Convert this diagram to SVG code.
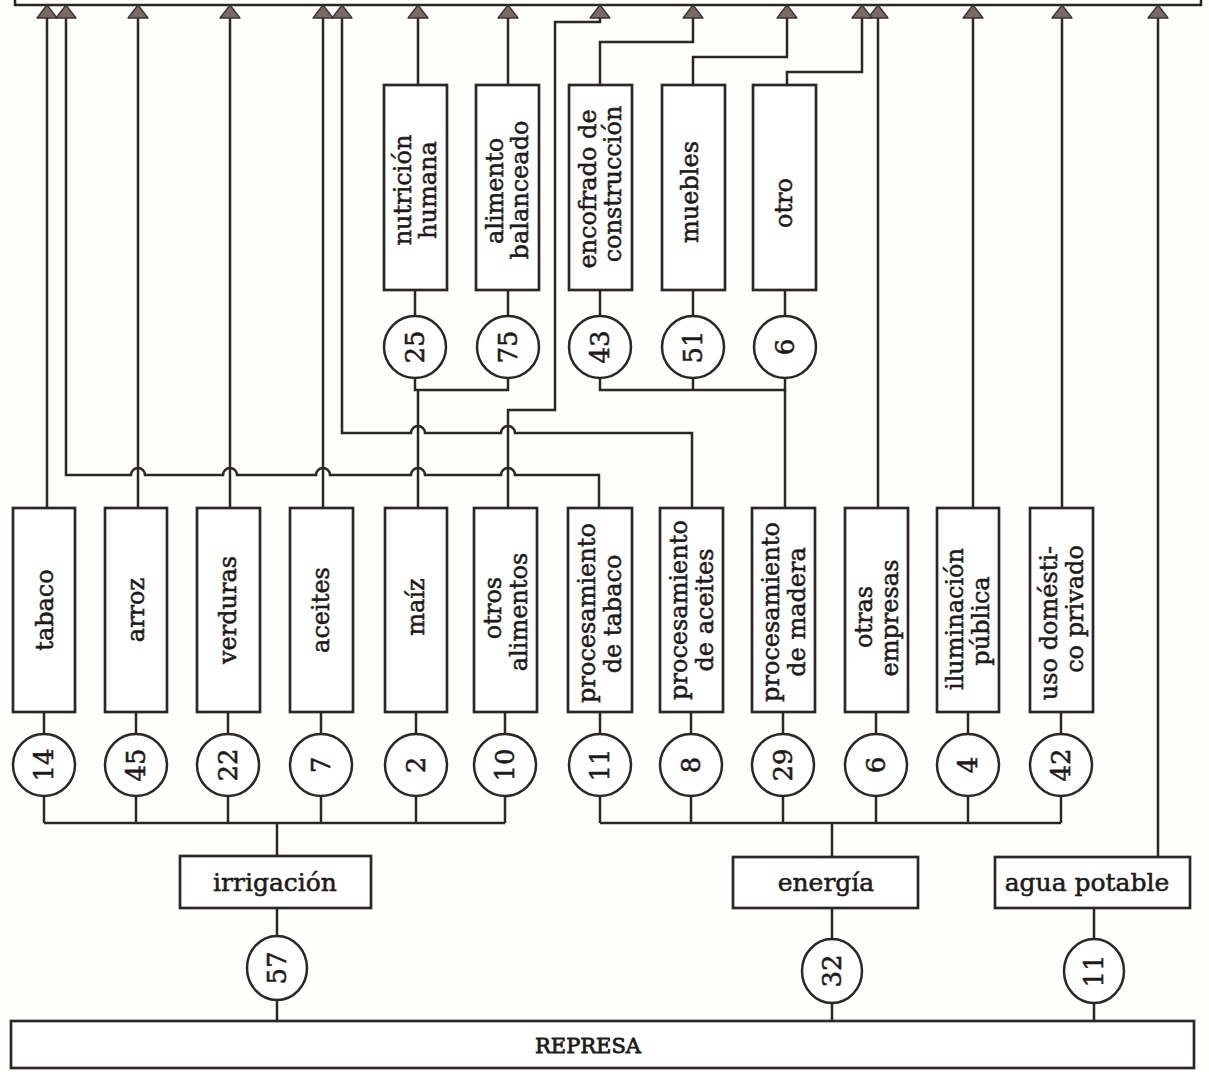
<svg xmlns="http://www.w3.org/2000/svg" width="1209" height="1072" viewBox="0 0 1209 1072">
<defs>
<marker id="ah" markerUnits="userSpaceOnUse" viewBox="0 0 15 23" refX="14" refY="11.5" markerWidth="15" markerHeight="23" orient="auto">
<path d="M1,1.5 L14,11.5 L1,21.5 Z" fill="#7a6a66" stroke="#3a3232" stroke-width="1.3" stroke-linejoin="round"/>
</marker>
<style>
.bx{fill:#fff;stroke:#2b2726;stroke-width:2.7}
.ci{fill:#fff;stroke:#2b2726;stroke-width:2.5}
.ln{fill:none;stroke:#2b2726;stroke-width:2.5;stroke-linejoin:miter}
.ar{marker-end:url(#ah)}
text{font-family:"DejaVu Serif","Liberation Serif",serif;fill:#1e1a1a;stroke:#1e1a1a;stroke-width:0.55}
.t{font-size:24px;text-anchor:middle}
.n{font-size:26px;text-anchor:middle}
.h{font-size:25px;text-anchor:middle}
.r{font-size:21px;text-anchor:middle;stroke-width:0.8}
</style>
</defs>
<rect width="1209" height="1072" fill="#fefefd"/>

<g id="top-frame">
<path class="ln" d="M15,0 V5 H1201 V0" stroke-width="2.8"/>
</g>

<g id="connectors">
<path class="ln ar" d="M47,508 V5"/>
<path class="ln ar" d="M138,508 V5"/>
<path class="ln ar" d="M230,508 V5"/>
<path class="ln ar" d="M323,508 V5"/>
<path class="ln ar" d="M878,508 V5"/>
<path class="ln ar" d="M973,508 V5"/>
<path class="ln ar" d="M1062,508 V5"/>
<path class="ln ar" d="M1158,857 V5"/>
<path class="ln ar" d="M599,508 V475 H515 A7,7 0 0 0 501,475 H425 A7,7 0 0 0 411,475 H330 A7,7 0 0 0 316,475 H237 A7,7 0 0 0 223,475 H145 A7,7 0 0 0 131,475 H66 V5"/>
<path class="ln ar" d="M692,508 V433 H515 A7,7 0 0 0 501,433 H425 A7,7 0 0 0 411,433 H342 V5"/>
<path class="ln" d="M418,508 V390"/>
<path class="ln" d="M415,378 V390 H508 V378"/>
<path class="ln ar" d="M508,508 V410 H555 V22 H600 V5"/>
<path class="ln" d="M785,508 V390"/>
<path class="ln" d="M600,378 V390 H785 V378"/>
<path class="ln" d="M693,378 V390"/>
<path class="ln ar" d="M418,85 V5"/>
<path class="ln ar" d="M508,85 V5"/>
<path class="ln ar" d="M600,85 V42 H693 V5"/>
<path class="ln ar" d="M693,85 V57 H787 V5"/>
<path class="ln ar" d="M787,85 V72 H862 V5"/>
<path class="ln" d="M415,290 V316 M508,290 V316 M600,290 V316 M693,290 V316 M785,290 V316"/>
<path class="ln" d="M44,712 V823 M136,712 V823 M228,712 V823 M321,712 V823 M416,712 V823 M505,712 V823"/>
<path class="ln" d="M600,712 V823 M691,712 V823 M783,712 V823 M876,712 V823 M968,712 V823 M1061,712 V823"/>
<path class="ln" d="M44,823 H505 M600,823 H1061"/>
<path class="ln" d="M277,823 V1021 M832,823 V1021 M1094,908 V1021"/>
</g>

<g id="upper-nodes">
<g id="n-nutricion"><rect class="bx" x="384" y="85" width="63" height="205"/>
<text class="t" transform="translate(403,190) rotate(-90)" dy="0.35em">nutrición</text>
<text class="t" transform="translate(428,190) rotate(-90)" dy="0.35em">humana</text></g>
<g id="n-alimento"><rect class="bx" x="476" y="85" width="63" height="205"/>
<text class="t" transform="translate(495,191) rotate(-90)" dy="0.35em">alimento</text>
<text class="t" transform="translate(520,190) rotate(-90)" dy="0.35em">balanceado</text></g>
<g id="n-encofrado"><rect class="bx" x="569" y="85" width="63" height="205"/>
<text class="t" transform="translate(588,189) rotate(-90)" dy="0.35em">encofrado de</text>
<text class="t" transform="translate(613,184) rotate(-90)" dy="0.35em">construcción</text></g>
<g id="n-muebles"><rect class="bx" x="662" y="85" width="63" height="205"/>
<text class="t" transform="translate(690,192) rotate(-90)" dy="0.35em">muebles</text></g>
<g id="n-otro"><rect class="bx" x="753" y="85" width="63" height="205"/>
<text class="t" transform="translate(784,203) rotate(-90)" dy="0.35em">otro</text></g>
<g id="c-25"><circle class="ci" cx="415" cy="347" r="31"/><text class="n" transform="translate(415,347) rotate(-90)" dy="0.36em">25</text></g>
<g id="c-75"><circle class="ci" cx="508" cy="347" r="31"/><text class="n" transform="translate(508,347) rotate(-90)" dy="0.36em">75</text></g>
<g id="c-43"><circle class="ci" cx="600" cy="347" r="31"/><text class="n" transform="translate(600,347) rotate(-90)" dy="0.36em">43</text></g>
<g id="c-51"><circle class="ci" cx="693" cy="347" r="31"/><text class="n" transform="translate(693,347) rotate(-90)" dy="0.36em">51</text></g>
<g id="c-6u"><circle class="ci" cx="785" cy="347" r="31"/><text class="n" transform="translate(785,347) rotate(-90)" dy="0.36em">6</text></g>
</g>

<g id="lower-nodes">
<g id="n-tabaco"><rect class="bx" x="13" y="508" width="62" height="204"/>
<text class="t" transform="translate(45,610) rotate(-90)" dy="0.35em">tabaco</text></g>
<g id="n-arroz"><rect class="bx" x="105" y="508" width="62" height="204"/>
<text class="t" transform="translate(136,610) rotate(-90)" dy="0.35em">arroz</text></g>
<g id="n-verduras"><rect class="bx" x="197" y="508" width="63" height="204"/>
<text class="t" transform="translate(228,610) rotate(-90)" dy="0.35em">verduras</text></g>
<g id="n-aceites"><rect class="bx" x="290" y="508" width="63" height="204"/>
<text class="t" transform="translate(321,610) rotate(-90)" dy="0.35em">aceites</text></g>
<g id="n-maiz"><rect class="bx" x="385" y="508" width="62" height="204"/>
<text class="t" transform="translate(416,607) rotate(-90)" dy="0.35em">maíz</text></g>
<g id="n-otros"><rect class="bx" x="474" y="508" width="63" height="204"/>
<text class="t" transform="translate(493,608) rotate(-90)" dy="0.35em">otros</text>
<text class="t" transform="translate(519,612) rotate(-90)" dy="0.35em">alimentos</text></g>
<g id="n-proctab"><rect class="bx" x="568" y="508" width="64" height="204"/>
<text class="t" transform="translate(587,613) rotate(-90)" dy="0.35em">procesamiento</text>
<text class="t" transform="translate(613,614) rotate(-90)" dy="0.35em">de tabaco</text></g>
<g id="n-procace"><rect class="bx" x="660" y="508" width="63" height="204"/>
<text class="t" transform="translate(679,610) rotate(-90)" dy="0.35em">procesamiento</text>
<text class="t" transform="translate(705,610) rotate(-90)" dy="0.35em">de aceites</text></g>
<g id="n-procmad"><rect class="bx" x="752" y="508" width="63" height="204"/>
<text class="t" transform="translate(771,612) rotate(-90)" dy="0.35em">procesamiento</text>
<text class="t" transform="translate(797,612) rotate(-90)" dy="0.35em">de madera</text></g>
<g id="n-otrasemp"><rect class="bx" x="845" y="508" width="63" height="204"/>
<text class="t" transform="translate(864,617) rotate(-90)" dy="0.35em">otras</text>
<text class="t" transform="translate(890,618) rotate(-90)" dy="0.35em">empresas</text></g>
<g id="n-ilum"><rect class="bx" x="937" y="508" width="62" height="204"/>
<text class="t" transform="translate(955,619) rotate(-90)" dy="0.35em">iluminación</text>
<text class="t" transform="translate(981,621) rotate(-90)" dy="0.35em">pública</text></g>
<g id="n-uso"><rect class="bx" x="1030" y="508" width="63" height="204"/>
<text class="t" transform="translate(1049,623) rotate(-90)" dy="0.35em">uso domésti-</text>
<text class="t" transform="translate(1075,609) rotate(-90)" dy="0.35em">co privado</text></g>

<g id="c-14"><circle class="ci" cx="44" cy="765" r="31"/><text class="n" transform="translate(44,765) rotate(-90)" dy="0.36em">14</text></g>
<g id="c-45"><circle class="ci" cx="136" cy="765" r="31"/><text class="n" transform="translate(136,765) rotate(-90)" dy="0.36em">45</text></g>
<g id="c-22"><circle class="ci" cx="228" cy="765" r="31"/><text class="n" transform="translate(228,765) rotate(-90)" dy="0.36em">22</text></g>
<g id="c-7"><circle class="ci" cx="321" cy="765" r="31"/><text class="n" transform="translate(321,765) rotate(-90)" dy="0.36em">7</text></g>
<g id="c-2"><circle class="ci" cx="416" cy="765" r="31"/><text class="n" transform="translate(416,765) rotate(-90)" dy="0.36em">2</text></g>
<g id="c-10"><circle class="ci" cx="505" cy="765" r="31"/><text class="n" transform="translate(505,765) rotate(-90)" dy="0.36em">10</text></g>
<g id="c-11a"><circle class="ci" cx="600" cy="765" r="31"/><text class="n" transform="translate(600,765) rotate(-90)" dy="0.36em">11</text></g>
<g id="c-8"><circle class="ci" cx="691" cy="765" r="31"/><text class="n" transform="translate(691,765) rotate(-90)" dy="0.36em">8</text></g>
<g id="c-29"><circle class="ci" cx="783" cy="765" r="31"/><text class="n" transform="translate(783,765) rotate(-90)" dy="0.36em">29</text></g>
<g id="c-6l"><circle class="ci" cx="876" cy="765" r="31"/><text class="n" transform="translate(876,765) rotate(-90)" dy="0.36em">6</text></g>
<g id="c-4"><circle class="ci" cx="968" cy="765" r="31"/><text class="n" transform="translate(968,765) rotate(-90)" dy="0.36em">4</text></g>
<g id="c-42"><circle class="ci" cx="1061" cy="765" r="31"/><text class="n" transform="translate(1061,765) rotate(-90)" dy="0.36em">42</text></g>
</g>

<g id="bottom-nodes">
<g id="n-irrigacion"><rect class="bx" x="180" y="856" width="191" height="52"/>
<text class="h" x="275" y="882" dy="0.35em">irrigación</text></g>
<g id="n-energia"><rect class="bx" x="733" y="857" width="185" height="51"/>
<text class="h" x="826" y="882" dy="0.35em">energía</text></g>
<g id="n-agua"><rect class="bx" x="995" y="857" width="195" height="51"/>
<text class="h" x="1087" y="882" dy="0.35em">agua potable</text></g>
<g id="c-57"><ellipse class="ci" cx="277" cy="968" rx="30" ry="32"/><text class="n" transform="translate(277,968) rotate(-90)" dy="0.36em">57</text></g>
<g id="c-32"><ellipse class="ci" cx="832" cy="971" rx="30" ry="32"/><text class="n" transform="translate(832,971) rotate(-90)" dy="0.36em">32</text></g>
<g id="c-11b"><ellipse class="ci" cx="1094" cy="971" rx="30" ry="32"/><text class="n" transform="translate(1094,971) rotate(-90)" dy="0.36em">11</text></g>
<g id="n-represa"><rect class="bx" x="11" y="1021" width="1183" height="47"/>
<text class="r" x="588" y="1046" dy="0.35em">REPRESA</text></g>
</g>
</svg>
